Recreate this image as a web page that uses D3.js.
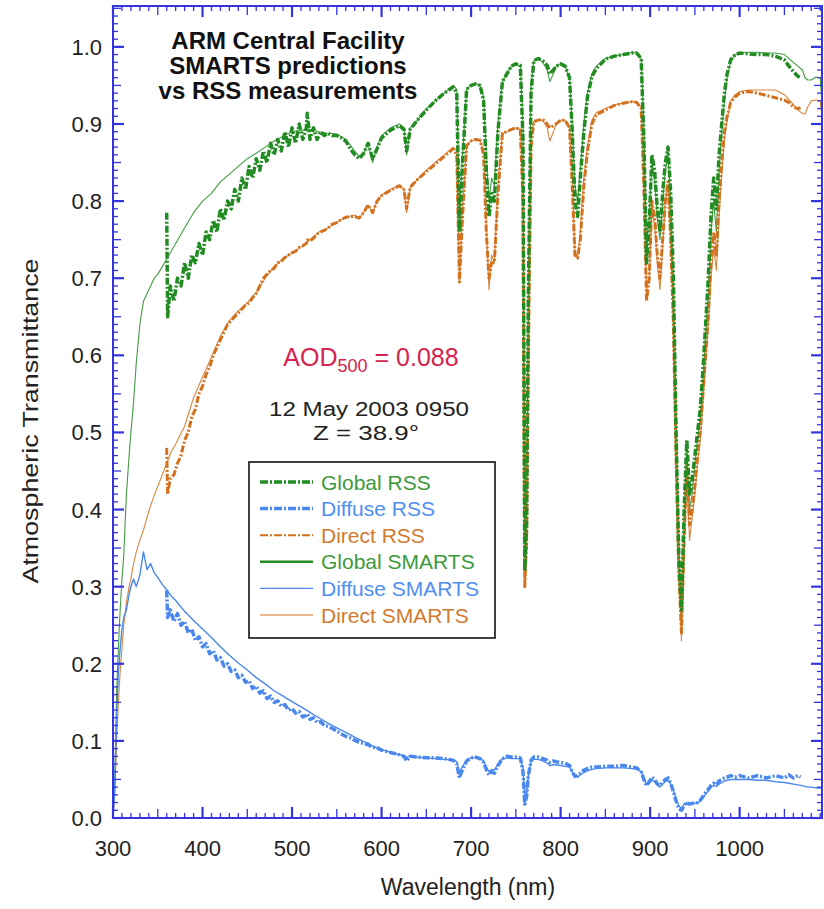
<!DOCTYPE html>
<html>
<head>
<meta charset="utf-8">
<script src="https://cdn.jsdelivr.net/npm/d3@7"></script>
<style>
  html, body { margin: 0; padding: 0; background: #fff; }
  svg { display: block; font-family: "Liberation Sans", Arial, Helvetica, sans-serif; }
</style>
</head>
<body>
<svg id="chart" width="824" height="909"></svg>
<script>
// ---------------- DATA ----------------
const smartsWl = [300,302,304,306,308,310,312,315,318,320,323,326,330,334,338,342,346,350,355,360,365,370,380,390,400,410,420,430,440,450,460,470,480,490,500,510,520,530,540,550,560,570,575,580,585,590,595,600,610,620,625,628,632,640,650,660,670,680,684,687,690,695,700,705,710,714,717,720,723,726,730,735,740,745,750,755,758,760,762,764,767,770,775,780,785,788,792,795,800,805,810,813,816,819,822,826,830,835,840,850,860,870,880,885,890,893,896,899,902,905,908,911,914,917,920,923,926,929,932,935,938,941,944,947,950,953,956,959,962,965,968,971,974,977,980,983,986,990,995,1000,1010,1020,1030,1040,1050,1055,1060,1065,1070,1073,1076,1080,1085,1090,1092];

const globalSmarts = [0.0,0.05,0.16,0.22,0.27,0.31,0.34,0.42,0.47,0.50,0.54,0.59,0.64,0.67,0.68,0.69,0.70,0.705,0.715,0.725,0.735,0.745,0.765,0.785,0.80,0.81,0.825,0.835,0.845,0.855,0.862,0.870,0.878,0.884,0.890,0.892,0.893,0.890,0.888,0.887,0.880,0.865,0.858,0.862,0.875,0.85,0.870,0.885,0.895,0.900,0.895,0.860,0.895,0.905,0.920,0.930,0.940,0.950,0.945,0.78,0.85,0.945,0.950,0.952,0.950,0.935,0.86,0.80,0.83,0.82,0.90,0.955,0.965,0.975,0.978,0.975,0.90,0.33,0.40,0.70,0.95,0.982,0.985,0.980,0.970,0.955,0.965,0.975,0.978,0.975,0.960,0.90,0.82,0.80,0.84,0.90,0.94,0.965,0.975,0.985,0.988,0.990,0.993,0.992,0.985,0.90,0.74,0.78,0.85,0.83,0.78,0.75,0.80,0.84,0.86,0.80,0.70,0.52,0.35,0.26,0.38,0.47,0.40,0.42,0.46,0.49,0.52,0.57,0.63,0.68,0.76,0.80,0.76,0.84,0.89,0.93,0.960,0.982,0.990,0.992,0.993,0.993,0.992,0.992,0.990,0.985,0.980,0.975,0.970,0.960,0.957,0.957,0.961,0.960,0.930];

const directSmarts = [0.0,0.03,0.10,0.15,0.19,0.22,0.25,0.28,0.30,0.31,0.33,0.345,0.36,0.373,0.39,0.405,0.418,0.43,0.445,0.46,0.475,0.485,0.508,0.545,0.572,0.598,0.625,0.645,0.658,0.668,0.682,0.700,0.715,0.725,0.733,0.740,0.750,0.760,0.765,0.773,0.779,0.782,0.778,0.785,0.795,0.785,0.800,0.808,0.815,0.82,0.815,0.785,0.818,0.828,0.840,0.850,0.860,0.870,0.865,0.695,0.78,0.872,0.878,0.880,0.879,0.865,0.77,0.685,0.73,0.72,0.82,0.888,0.890,0.893,0.895,0.893,0.82,0.30,0.36,0.62,0.88,0.903,0.905,0.905,0.895,0.878,0.890,0.900,0.905,0.905,0.895,0.83,0.735,0.726,0.76,0.83,0.87,0.905,0.915,0.920,0.925,0.927,0.929,0.928,0.922,0.84,0.685,0.70,0.79,0.77,0.72,0.685,0.74,0.80,0.82,0.75,0.65,0.48,0.33,0.23,0.35,0.45,0.36,0.39,0.42,0.46,0.49,0.54,0.59,0.64,0.70,0.74,0.71,0.78,0.835,0.88,0.905,0.930,0.938,0.942,0.944,0.944,0.944,0.944,0.938,0.932,0.925,0.918,0.914,0.913,0.922,0.930,0.931,0.930,0.91];

const diffuseSmarts = [0.0,0.04,0.13,0.19,0.22,0.245,0.26,0.27,0.29,0.30,0.31,0.30,0.315,0.345,0.322,0.33,0.318,0.312,0.303,0.296,0.288,0.282,0.268,0.256,0.245,0.234,0.222,0.211,0.201,0.192,0.182,0.174,0.165,0.158,0.151,0.144,0.137,0.130,0.123,0.117,0.111,0.105,0.102,0.099,0.097,0.093,0.091,0.089,0.085,0.082,0.081,0.079,0.080,0.079,0.078,0.077,0.076,0.075,0.073,0.058,0.066,0.075,0.078,0.078,0.077,0.074,0.066,0.060,0.063,0.062,0.070,0.077,0.078,0.077,0.077,0.077,0.065,0.025,0.030,0.055,0.073,0.076,0.076,0.074,0.071,0.068,0.069,0.069,0.068,0.067,0.066,0.060,0.054,0.053,0.056,0.059,0.061,0.063,0.064,0.065,0.065,0.065,0.064,0.063,0.060,0.052,0.043,0.045,0.049,0.047,0.043,0.040,0.044,0.047,0.049,0.044,0.036,0.025,0.016,0.012,0.018,0.020,0.018,0.019,0.019,0.020,0.022,0.026,0.031,0.035,0.040,0.042,0.041,0.044,0.046,0.048,0.049,0.050,0.050,0.050,0.050,0.049,0.049,0.047,0.046,0.045,0.044,0.043,0.042,0.041,0.040,0.040,0.039,0.039,0.038];

const rssWl = [360,361,364,368,372,376,380,384,388,392,396,400,404,408,412,416,420,424,428,432,436,440,444,448,452,456,460,464,468,472,476,480,484,488,492,496,500,504,508,512,516,517,520,524,528,532,536,540,545,550,555,560,565,570,575,580,585,590,595,600,610,620,625,628,632,640,650,660,670,680,684,687,690,695,700,705,710,714,717,720,723,726,730,735,740,745,750,755,758,760,762,764,767,770,775,780,785,788,792,795,800,805,810,813,816,819,822,826,830,835,840,850,860,870,880,885,890,893,896,899,902,905,908,911,914,917,920,923,926,929,932,935,938,941,944,947,950,953,956,959,962,965,968,971,974,977,980,983,986,990,995,1000,1010,1020,1030,1040,1050,1055,1060,1065,1068];

const globalRss = [0.785,0.65,0.69,0.67,0.70,0.69,0.72,0.70,0.73,0.72,0.745,0.73,0.76,0.75,0.775,0.76,0.79,0.775,0.80,0.79,0.815,0.80,0.83,0.815,0.845,0.83,0.855,0.84,0.865,0.85,0.875,0.86,0.88,0.865,0.89,0.87,0.895,0.875,0.90,0.88,0.895,0.914,0.88,0.895,0.88,0.89,0.885,0.888,0.885,0.885,0.882,0.878,0.868,0.86,0.855,0.862,0.875,0.855,0.868,0.882,0.892,0.898,0.893,0.865,0.893,0.905,0.918,0.930,0.940,0.948,0.94,0.76,0.84,0.945,0.95,0.952,0.95,0.93,0.84,0.78,0.81,0.80,0.89,0.955,0.965,0.975,0.978,0.976,0.88,0.32,0.38,0.68,0.94,0.982,0.985,0.982,0.976,0.965,0.97,0.975,0.978,0.975,0.96,0.89,0.80,0.78,0.83,0.89,0.935,0.962,0.972,0.984,0.988,0.99,0.992,0.992,0.985,0.88,0.72,0.77,0.86,0.84,0.79,0.76,0.81,0.85,0.87,0.81,0.70,0.50,0.34,0.27,0.40,0.49,0.42,0.44,0.47,0.50,0.53,0.58,0.64,0.70,0.78,0.83,0.79,0.86,0.90,0.94,0.965,0.983,0.990,0.992,0.991,0.99,0.99,0.988,0.983,0.975,0.968,0.962,0.96];

const directRss = [0.48,0.42,0.44,0.445,0.46,0.47,0.49,0.50,0.52,0.53,0.55,0.56,0.575,0.585,0.60,0.61,0.62,0.63,0.64,0.645,0.65,0.655,0.66,0.665,0.668,0.675,0.68,0.69,0.70,0.705,0.71,0.713,0.72,0.722,0.727,0.73,0.733,0.735,0.74,0.742,0.745,0.75,0.748,0.752,0.757,0.76,0.762,0.765,0.77,0.772,0.776,0.779,0.78,0.78,0.778,0.785,0.795,0.785,0.80,0.807,0.814,0.82,0.815,0.79,0.818,0.828,0.838,0.848,0.858,0.868,0.86,0.695,0.77,0.872,0.878,0.88,0.879,0.86,0.76,0.70,0.72,0.72,0.81,0.888,0.89,0.893,0.895,0.893,0.80,0.30,0.36,0.60,0.87,0.903,0.905,0.906,0.90,0.895,0.898,0.90,0.905,0.905,0.895,0.82,0.73,0.726,0.75,0.82,0.865,0.90,0.912,0.918,0.924,0.927,0.929,0.928,0.92,0.82,0.67,0.70,0.80,0.78,0.73,0.70,0.75,0.80,0.825,0.75,0.64,0.47,0.32,0.24,0.36,0.46,0.38,0.40,0.43,0.47,0.50,0.55,0.60,0.65,0.72,0.76,0.73,0.80,0.85,0.89,0.91,0.928,0.935,0.94,0.942,0.94,0.937,0.934,0.931,0.928,0.922,0.92,0.921];

const diffuseRss = [0.295,0.26,0.27,0.255,0.265,0.25,0.255,0.24,0.245,0.23,0.235,0.222,0.226,0.213,0.217,0.205,0.208,0.197,0.2,0.19,0.192,0.182,0.185,0.176,0.178,0.168,0.171,0.162,0.165,0.155,0.158,0.15,0.152,0.145,0.147,0.14,0.142,0.136,0.138,0.131,0.133,0.135,0.128,0.13,0.124,0.125,0.12,0.119,0.116,0.113,0.109,0.106,0.104,0.101,0.098,0.097,0.095,0.092,0.091,0.088,0.085,0.082,0.08,0.074,0.08,0.079,0.078,0.078,0.077,0.075,0.07,0.052,0.062,0.074,0.078,0.079,0.077,0.072,0.063,0.056,0.06,0.058,0.068,0.077,0.08,0.079,0.079,0.078,0.06,0.018,0.028,0.055,0.075,0.079,0.079,0.077,0.075,0.072,0.074,0.073,0.072,0.071,0.068,0.06,0.054,0.055,0.058,0.062,0.064,0.066,0.066,0.067,0.067,0.068,0.066,0.065,0.06,0.05,0.042,0.047,0.053,0.05,0.044,0.042,0.046,0.05,0.052,0.045,0.034,0.022,0.012,0.01,0.016,0.02,0.018,0.019,0.019,0.02,0.023,0.028,0.033,0.037,0.042,0.045,0.043,0.048,0.05,0.052,0.053,0.055,0.053,0.055,0.052,0.055,0.052,0.055,0.052,0.056,0.052,0.055,0.053];

const xTickLabels = [300,400,500,600,700,800,900,1000];
const yTickLabels = [0.0,0.1,0.2,0.3,0.4,0.5,0.6,0.7,0.8,0.9,1.0];

const legendLabels = ["Global RSS","Diffuse RSS","Direct RSS","Global SMARTS","Diffuse SMARTS","Direct SMARTS"];
const titleLines = ["ARM Central Facility","SMARTS predictions","vs RSS measurements"];

// ---------------- CHART ----------------
const svg = d3.select("#chart");
const L = 113, R = 822, T = 6, B = 818;
const x = d3.scaleLinear().domain([300, 1092]).range([L, R]);
const y = d3.scaleLinear().domain([0, 1.053]).range([B, T]);

const frameColor = "#3535dd";
const cGreen = "#228b22", cBlue = "#4a88ee", cOrange = "#d2711e";
const tGreen = "#3c9a3c", tBlue = "#4f8ff0", tOrange = "#d27a2e";

svg.append("defs").append("clipPath").attr("id","clip")
  .append("rect").attr("x", L).attr("y", T).attr("width", R - L).attr("height", B - T);

const plot = svg.append("g").attr("clip-path", "url(#clip)");

function mk(wl, vals) { return wl.map((w, i) => ({w, v: vals[i]})); }
const line = d3.line().defined(d => d.v != null).x(d => x(d.w)).y(d => y(d.v));

const rssDash = "7,2,2,2";
const series = [
  {data: mk(smartsWl, directSmarts), color: cOrange, w: 1.1, dash: null, op: 0.85},
  {data: mk(smartsWl, globalSmarts), color: cGreen, w: 1.1, dash: null, op: 0.85},
  {data: mk(smartsWl, diffuseSmarts), color: cBlue, w: 1.4, dash: null, op: 1},
  {data: mk(rssWl, directRss), color: cOrange, w: 3, dash: rssDash, op: 1},
  {data: mk(rssWl, globalRss), color: cGreen, w: 3.5, dash: rssDash, op: 1},
  {data: mk(rssWl, diffuseRss), color: cBlue, w: 3.5, dash: rssDash, op: 1}
];
series.forEach(s => {
  plot.append("path").datum(s.data)
    .attr("d", line).attr("fill", "none")
    .attr("stroke", s.color).attr("stroke-width", s.w)
    .attr("stroke-opacity", s.op)
    .attr("stroke-linejoin", "round")
    .attr("stroke-dasharray", s.dash);
});

// frame
svg.append("rect").attr("x", L).attr("y", T).attr("width", R - L).attr("height", B - T)
  .attr("fill", "none").attr("stroke", frameColor).attr("stroke-width", 2);

// ticks (inward on all sides)
const tickG = svg.append("g").attr("stroke", frameColor);
d3.range(300, 1092, 10).forEach(w => {
  const major = w % 100 === 0, mid = w % 50 === 0;
  const len = major ? 11 : (mid ? 9 : 5);
  const sw = major ? 2.2 : 1.3;
  tickG.append("line").attr("x1", x(w)).attr("x2", x(w)).attr("y1", B).attr("y2", B - len).attr("stroke-width", sw);
  tickG.append("line").attr("x1", x(w)).attr("x2", x(w)).attr("y1", T).attr("y2", T + len).attr("stroke-width", sw);
});
d3.range(0, 106).forEach(k => {
  const v = k / 100;
  const major = k % 10 === 0, mid = k % 5 === 0;
  const len = major ? 11 : (mid ? 8 : 5);
  const sw = major ? 2.2 : 1.3;
  tickG.append("line").attr("x1", L).attr("x2", L + len).attr("y1", y(v)).attr("y2", y(v)).attr("stroke-width", sw);
  tickG.append("line").attr("x1", R).attr("x2", R - len).attr("y1", y(v)).attr("y2", y(v)).attr("stroke-width", sw);
});

// tick labels
svg.append("g").selectAll("text").data(xTickLabels).join("text")
  .attr("x", d => x(d)).attr("y", 856).attr("text-anchor", "middle")
  .attr("font-size", 22).attr("fill", "#222").text(d => d);
svg.append("g").selectAll("text").data(yTickLabels).join("text")
  .attr("x", 102).attr("y", d => y(d) + 8).attr("text-anchor", "end")
  .attr("font-size", 22).attr("fill", "#222").text(d => d.toFixed(1));

// axis titles
svg.append("text").attr("x", 468).attr("y", 895).attr("text-anchor", "middle")
  .attr("font-size", 23).attr("fill", "#222").text("Wavelength (nm)");
svg.append("text").attr("transform", "translate(38,421) rotate(-90)").attr("text-anchor", "middle")
  .attr("font-size", 22).attr("textLength", 325).attr("lengthAdjust", "spacingAndGlyphs")
  .attr("fill", "#222").text("Atmospheric Transmittance");

// title
svg.append("g").selectAll("text").data(titleLines).join("text")
  .attr("x", 288).attr("y", (d, i) => 49 + i * 25).attr("text-anchor", "middle")
  .attr("font-size", 24).attr("font-weight", "bold").attr("fill", "#111").text(d => d);

// AOD annotation
const aod = svg.append("text").attr("x", 371).attr("y", 366).attr("text-anchor", "middle")
  .attr("font-size", 25).attr("fill", "#d6224f");
aod.append("tspan").text("AOD");
aod.append("tspan").attr("font-size", 18).attr("dy", 6).text("500");
aod.append("tspan").attr("dy", -6).text(" = 0.088");

svg.append("text").attr("x", 369).attr("y", 416).attr("text-anchor", "middle")
  .attr("font-size", 20).attr("textLength", 200).attr("lengthAdjust", "spacingAndGlyphs")
  .attr("fill", "#222").text("12 May 2003 0950");
svg.append("text").attr("x", 366).attr("y", 440).attr("text-anchor", "middle")
  .attr("font-size", 20).attr("textLength", 106).attr("lengthAdjust", "spacingAndGlyphs")
  .attr("fill", "#222").text("Z = 38.9°");

// legend
const lg = svg.append("g");
lg.append("rect").attr("x", 249).attr("y", 462).attr("width", 246).attr("height", 176)
  .attr("fill", "#fff").attr("stroke", "#111").attr("stroke-width", 1.6);
const legendStyle = [
  {c: cGreen, t: tGreen, w: 3.5, dash: "8,2,2,2"},
  {c: cBlue, t: tBlue, w: 3.5, dash: "8,2,2,2"},
  {c: cOrange, t: tOrange, w: 2, dash: "8,2,2,2"},
  {c: cGreen, t: tGreen, w: 2.5, dash: null},
  {c: cBlue, t: tBlue, w: 1.2, dash: null},
  {c: cOrange, t: tOrange, w: 1.2, dash: null}
];
legendLabels.forEach((lab, i) => {
  const yy = 482 + i * 26.6;
  const st = legendStyle[i];
  lg.append("line").attr("x1", 260).attr("x2", 313).attr("y1", yy).attr("y2", yy)
    .attr("stroke", st.c).attr("stroke-width", st.w).attr("stroke-dasharray", st.dash);
  lg.append("text").attr("x", 321).attr("y", yy + 7.5).attr("font-size", 21)
    .attr("fill", st.t).text(lab);
});
</script>
</body>
</html>
